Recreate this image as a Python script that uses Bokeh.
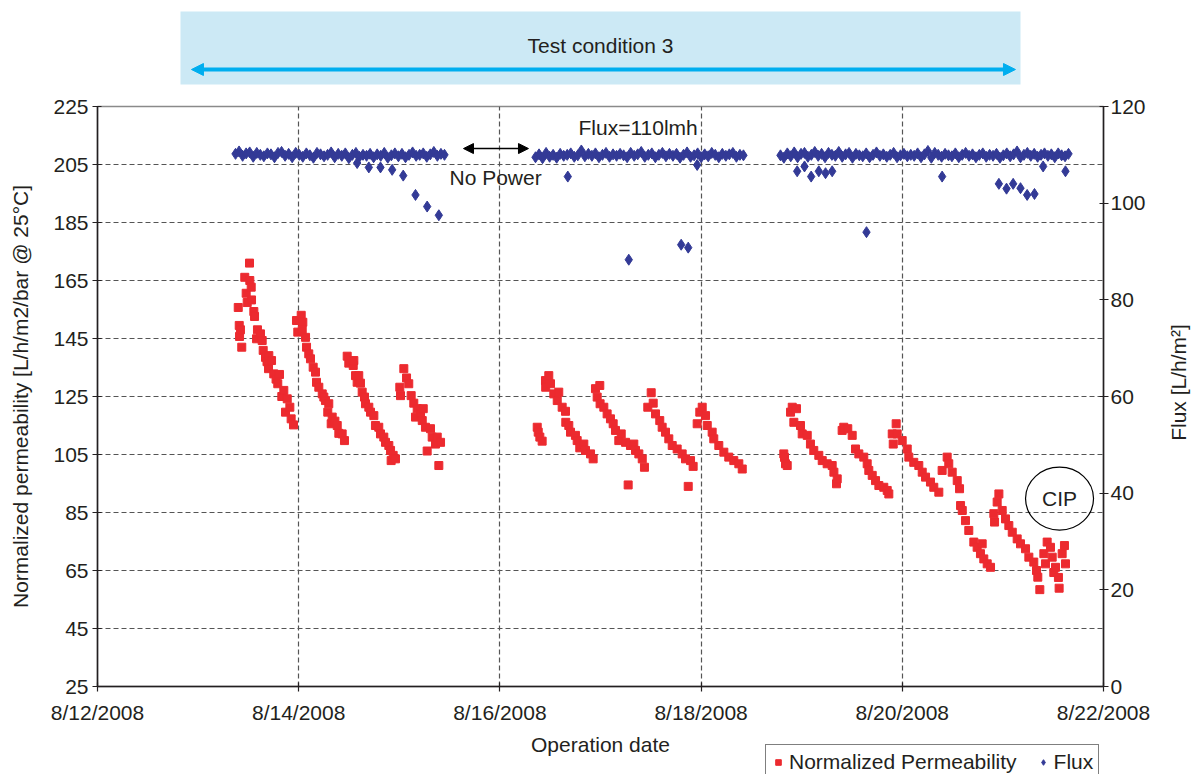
import numpy as np
from bokeh.plotting import figure
from bokeh.models import (Range1d, LinearAxis, FixedTicker, Legend, LegendItem,
                          Label, Arrow, NormalHead, BoxAnnotation)
from bokeh.layouts import column, row
from bokeh.embed import file_html
from bokeh.resources import INLINE

FONT = "Liberation Sans"
TXT = "#231F20"
FS = "21px"
RED = "#EC2A2F"
NAVY = "#333A96"

# ---------------- data ----------------
tick_days = [0, 2, 4, 6, 8, 10]
tick_labels = ["8/12/2008", "8/14/2008", "8/16/2008", "8/18/2008", "8/20/2008", "8/22/2008"]
perm_ticks = [25, 45, 65, 85, 105, 125, 145, 165, 185, 205, 225]
flux_ticks = [0, 20, 40, 60, 80, 100, 120]

# days since 8/12/2008 00:00 and normalized permeability
perm_day = [
    1.399, 1.409, 1.412, 1.421, 1.434, 1.464, 1.478, 1.488, 1.511, 1.514, 1.528, 1.531,
    1.554, 1.561, 1.581, 1.590, 1.620, 1.637, 1.647, 1.670, 1.685, 1.700, 1.703, 1.730,
    1.752, 1.775, 1.792, 1.809, 1.832, 1.852, 1.869, 1.886, 1.912, 1.925, 1.948,
    1.978, 1.991, 2.025, 2.035, 2.041, 2.068, 2.078, 2.100, 2.117, 2.144, 2.167, 2.177,
    2.200, 2.234, 2.250, 2.266, 2.289, 2.299, 2.323, 2.333, 2.360, 2.383, 2.399, 2.432, 2.455,
    2.482, 2.498, 2.542, 2.548, 2.565, 2.581, 2.597, 2.614, 2.631, 2.654, 2.664, 2.697,
    2.714, 2.747, 2.763, 2.796, 2.813, 2.846, 2.863, 2.896, 2.913, 2.919, 2.939, 2.962,
    3.005, 3.012, 3.045, 3.072, 3.094, 3.118, 3.144, 3.161, 3.178, 3.211, 3.228, 3.238,
    3.260, 3.277, 3.310, 3.327, 3.360, 3.377, 3.393, 3.410,
    4.371, 4.381, 4.397, 4.420,
    4.453, 4.455, 4.486, 4.503, 4.536, 4.570, 4.585, 4.619, 4.652, 4.655, 4.685, 4.702,
    4.751, 4.768, 4.794, 4.801, 4.834, 4.851, 4.901, 4.927,
    4.950, 4.967, 4.993, 4.996, 5.033, 5.066, 5.099, 5.126, 5.149, 5.182, 5.206, 5.249,
    5.275, 5.298, 5.331, 5.348, 5.381, 5.415, 5.437,
    5.470, 5.504, 5.524, 5.547, 5.589, 5.613, 5.646, 5.679, 5.713, 5.762, 5.812, 5.845,
    5.872, 5.895, 5.921,
    5.961, 5.987, 6.011, 6.044, 6.061, 6.110, 6.126, 6.176, 6.226, 6.275, 6.325, 6.375, 6.409,
    6.822, 6.829, 6.839, 6.856,
    6.889, 6.906, 6.922, 6.948, 6.988, 7.005, 7.055, 7.087, 7.120, 7.170, 7.204, 7.253,
    7.303, 7.320, 7.346, 7.353,
    7.402, 7.418, 7.458, 7.502, 7.535, 7.568, 7.617, 7.651, 7.667, 7.701, 7.734, 7.767,
    7.816, 7.850, 7.866,
    7.900, 7.910, 7.939, 7.949, 7.999, 8.049, 8.065, 8.114, 8.164, 8.198, 8.231, 8.280,
    8.313, 8.363,
    8.396, 8.446, 8.462, 8.496, 8.546, 8.569,
    8.579, 8.596, 8.628, 8.661, 8.711, 8.744, 8.777, 8.794, 8.810, 8.844, 8.877,
    8.910, 8.917, 8.943, 8.960, 8.993, 9.026, 9.059, 9.093, 9.142, 9.175, 9.225, 9.258,
    9.307, 9.334, 9.347, 9.367,
    9.407, 9.423, 9.440, 9.473, 9.490, 9.506, 9.523, 9.552, 9.559, 9.589, 9.612, 9.622,
]
perm_val = [
    155.7, 149.5, 145.7, 148.0, 142.0, 166.1, 160.6, 157.4, 171.0, 165.0, 162.7, 158.3,
    154.3, 152.6, 144.9, 148.0, 146.6, 144.3, 140.9, 138.5, 137.0, 134.6, 139.1, 137.4,
    132.8, 131.0, 129.4, 132.6, 125.0, 127.1, 119.6, 124.2, 121.3, 117.3, 115.2,
    151.2, 147.2, 153.0, 147.8, 150.6, 145.4, 142.0, 139.7, 138.0, 135.1, 133.4, 129.9,
    128.2, 125.9, 124.8, 123.6, 119.6, 122.5, 115.6, 117.9, 116.5, 115.0, 112.3, 112.1, 109.8,
    138.9, 136.5, 135.7, 137.4, 132.2, 129.9, 132.2, 129.6, 126.5, 124.8, 122.5, 121.3,
    119.6, 118.4, 115.0, 114.4, 112.1, 111.0, 109.2, 108.1, 106.4, 102.9, 104.7, 103.5,
    128.2, 125.3, 134.6, 131.4, 129.4, 125.3, 122.7, 117.9, 120.8, 119.0, 116.7, 120.8,
    114.4, 106.2, 113.9, 111.0, 108.6, 111.0, 101.2, 109.2,
    114.4, 112.7, 111.0, 109.6,
    130.5, 128.2, 132.2, 129.4, 125.9, 123.6, 126.5, 121.3, 119.9, 116.1, 115.0, 112.7,
    111.6, 109.8, 107.3, 108.1, 108.6, 106.4, 105.2, 103.5,
    127.7, 124.8, 128.8, 122.5, 121.3, 119.0, 117.3, 115.6, 113.3, 109.8, 112.1, 109.2,
    94.5, 108.1, 108.6, 106.4, 105.2, 103.5, 100.6,
    121.3, 126.3, 122.7, 119.0, 116.7, 114.4, 112.7, 110.4, 108.1, 106.9, 105.2, 103.5,
    94.0, 102.9, 100.9,
    115.6, 119.6, 121.3, 118.4, 115.0, 112.7, 110.4, 108.1, 105.8, 104.1, 102.9, 101.8, 100.0,
    105.2, 104.0, 101.8, 101.2,
    119.6, 121.3, 116.1, 120.8, 115.0, 112.1, 111.6, 108.6, 106.4, 104.7, 102.9, 101.8,
    101.2, 98.9, 94.9, 96.6,
    113.3, 114.4, 113.9, 111.6, 106.9, 105.2, 104.1, 101.8, 99.5, 97.8, 96.0, 94.3,
    93.7, 92.6, 91.4,
    112.1, 108.6, 115.6, 112.1, 109.8, 106.9, 104.1, 102.3, 101.2, 98.9, 97.2, 95.5,
    93.7, 92.0,
    99.5, 104.1, 101.8, 98.9, 96.0, 93.2,
    87.4, 85.7, 82.2, 78.8, 74.8, 73.0, 70.8, 74.2, 69.0, 67.3, 66.1,
    84.6, 81.7, 88.6, 91.4, 85.7, 82.8, 80.5, 78.2, 75.9, 74.2, 72.5, 69.6,
    67.9, 65.0, 62.7, 58.4,
    70.8, 67.3, 74.8, 73.0, 69.6, 64.3, 66.1, 62.6, 58.9, 70.8, 73.6, 67.3,
]

# flux: three logged runs (start day, end day) with regularly logged values
flux_run_start = [1.372, 4.354, 6.789]
flux_run_end = [3.449, 6.421, 9.652]
flux_run1 = [110.2, 110.7, 109.8, 110.3, 110.5, 109.6, 110.4, 110.0, 109.7, 110.3,
             110.1, 109.5, 110.4, 110.6, 109.8, 110.2, 109.5, 110.4, 110.0, 109.6,
             110.3, 109.9, 109.4, 110.4, 110.1, 109.7, 110.0, 110.5, 109.5, 110.2,
             109.8, 110.3, 109.3, 110.0, 110.4, 109.6, 110.0, 109.8, 110.2, 109.5,
             110.1, 109.8, 110.4, 109.4, 109.9, 110.3, 109.7, 110.2, 109.5, 110.0,
             110.5, 109.8, 110.0, 110.3, 109.6, 110.1, 110.6, 109.8, 110.2, 110.0]
flux_run2 = [109.5, 110.1, 109.3, 110.4, 109.6, 110.0, 109.4, 110.2, 109.8, 110.0,
             110.3, 109.6, 109.9, 110.9, 109.7, 110.2, 109.8, 110.3, 109.5, 110.0,
             110.4, 109.6, 110.1, 109.8, 110.2, 109.9, 109.5, 110.4, 109.8, 110.1,
             110.6, 109.6, 110.0, 110.3, 109.5, 110.0, 110.4, 109.7, 110.2, 109.8,
             110.2, 109.4, 110.0, 110.5, 109.6, 109.9, 110.3, 109.5, 110.1, 109.7,
             110.4, 110.0, 109.5, 110.2, 109.8, 110.1, 110.4, 109.6, 110.0, 109.9]
flux_run3 = [109.9, 109.4, 110.3, 109.7, 110.5, 109.5, 110.2, 110.4, 109.6, 110.0,
             110.6, 109.8, 110.2, 109.5, 110.4, 110.0, 109.8, 110.6, 109.6, 110.1,
             110.4, 109.4, 110.2, 109.9, 109.7, 110.3, 109.5, 110.0, 110.5, 109.8,
             110.1, 109.6, 110.0, 110.4, 109.5, 109.9, 110.2, 109.7, 110.0, 109.8,
             110.3, 109.5, 110.1, 110.8, 109.4, 110.4, 110.0, 109.6, 110.2, 109.9,
             109.7, 110.3, 109.5, 110.0, 110.4, 109.8, 110.1, 109.5, 110.0, 110.3,
             109.6, 110.0, 109.8, 110.2, 109.4, 109.9, 110.3, 109.7, 110.1, 110.7,
             109.5, 110.0, 110.4, 109.8, 110.2, 109.6, 110.0, 110.3, 109.8, 110.1,
             109.5, 110.3, 109.9, 109.7, 110.2]
flux_out_day = [2.581, 2.697, 2.813, 2.929, 3.039, 3.161, 3.277, 3.393,
                4.675, 5.281, 5.802, 5.872, 5.961,
                6.955, 7.028, 7.094, 7.170, 7.237, 7.303, 7.644, 8.396,
                8.960, 9.036, 9.102, 9.175, 9.241, 9.314, 9.400, 9.622]
flux_out_val = [108.3, 107.4, 107.4, 106.9, 105.7, 101.7, 99.3, 97.5,
                105.5, 88.3, 91.4, 90.8, 107.9,
                106.6, 107.6, 105.5, 106.6, 106.2, 106.6, 94.0, 105.5,
                104.0, 103.0, 104.0, 103.1, 101.7, 101.9, 107.6, 106.6]

flux_day = []
flux_val = []
for s, e, vals in zip(flux_run_start, flux_run_end, [flux_run1, flux_run2, flux_run3]):
    flux_day += list(np.linspace(s, e, len(vals)))
    flux_val += vals
flux_day += flux_out_day
flux_val += flux_out_val

# ---------------- layout ----------------
W = 1194
BL = 97            # frame left (px)
FW = 1006          # frame width (px)
SIDE_W = 26        # strip carrying the right axis title
PW = W - SIDE_W    # main plot width
TOP_H = 90
MAIN_H = 643
BOT_H = 41

xr = Range1d(0, 10)

def bare(fig):
    fig.grid.visible = False
    fig.outline_line_color = None
    return fig

# --- banner ---
top = bare(figure(width=W, height=TOP_H, x_range=xr, y_range=Range1d(0, TOP_H),
                  toolbar_location=None, output_backend="svg",
                  x_axis_location=None, y_axis_location=None,
                  min_border_left=BL, min_border_right=W - BL - FW,
                  min_border_top=0, min_border_bottom=0))
top.add_layout(BoxAnnotation(left=0.825, right=9.175, bottom=6, top=79,
                             fill_color="#CCE9F5", fill_alpha=1.0, line_color=None))
top.add_layout(Arrow(x_start=0.934, y_start=21, x_end=9.125, y_end=21,
                     line_color="#00AEEF", line_width=4,
                     start=NormalHead(size=12, fill_color="#00AEEF", line_color="#00AEEF"),
                     end=NormalHead(size=12, fill_color="#00AEEF", line_color="#00AEEF")))
top.add_layout(Label(x=5.0, y=45, text="Test condition 3", text_align="center",
                     text_baseline="middle", text_font=FONT, text_font_size=FS, text_color=TXT))

# --- main chart ---
p = figure(width=PW, height=MAIN_H, x_range=xr, y_range=Range1d(25, 225),
           toolbar_location=None, output_backend="svg",
           min_border_left=BL, min_border_right=PW - BL - FW,
           min_border_top=16, min_border_bottom=MAIN_H - 16 - 580)
p.extra_y_ranges = {"flux": Range1d(0, 120)}
p.outline_line_color = "#8A8A8A"
p.outline_line_width = 1.5

p.xaxis.ticker = FixedTicker(ticks=tick_days)
p.xaxis.major_label_overrides = {d: l for d, l in zip(tick_days, tick_labels)}
p.yaxis.ticker = FixedTicker(ticks=perm_ticks)
p.yaxis.axis_label = "Normalized permeability [L/h/m2/bar @ 25\u00b0C]"

ax_r = LinearAxis(y_range_name="flux", ticker=FixedTicker(ticks=flux_ticks))
p.add_layout(ax_r, "right")

for ax in [p.xaxis[0], p.yaxis[0], ax_r]:
    ax.axis_line_color = TXT
    ax.axis_line_width = 1.5
    ax.major_tick_line_color = TXT
    ax.major_tick_line_width = 1.2
    ax.major_tick_in = 4
    ax.major_tick_out = 5
    ax.minor_tick_line_color = None
    ax.major_label_text_font = FONT
    ax.major_label_text_font_size = FS
    ax.major_label_text_color = TXT
    ax.axis_label_text_font = FONT
    ax.axis_label_text_font_size = FS
    ax.axis_label_text_font_style = "normal"
    ax.axis_label_text_color = TXT

p.xaxis.major_label_standoff = 9
p.yaxis.major_label_standoff = 4
p.yaxis.axis_label_standoff = 18
ax_r.major_label_standoff = 2

for g in [p.xgrid[0], p.ygrid[0]]:
    g.grid_line_color = "#555555"
    g.grid_line_dash = "5 3"
    g.grid_line_width = 1.2

r_perm = p.scatter(perm_day, perm_val, marker="square", size=8,
                   fill_color=RED, line_color=RED)
r_flux = p.scatter(flux_day, flux_val, marker="diamond", size=11, y_range_name="flux",
                   fill_color=NAVY, line_color=NAVY)

p.add_layout(Label(x=4.781, y=217.8, text="Flux=110lmh", text_align="left",
                   text_baseline="middle", text_font=FONT, text_font_size=FS, text_color=TXT))
p.add_layout(Label(x=3.499, y=200.5, text="No Power", text_align="left",
                   text_baseline="middle", text_font=FONT, text_font_size=FS, text_color=TXT))
p.add_layout(Arrow(x_start=3.638, y_start=210.5, x_end=4.284, y_end=210.5,
                   line_color="black", line_width=1.5,
                   start=NormalHead(size=10, fill_color="black", line_color="black"),
                   end=NormalHead(size=10, fill_color="black", line_color="black")))
p.ellipse(x=[9.563], y=[89.8], width=68, height=63, width_units="screen",
          height_units="screen", fill_color=None, line_color="black", line_width=1.2)
p.add_layout(Label(x=9.563, y=89.8, text="CIP", text_align="center",
                   text_baseline="middle", text_font=FONT, text_font_size=FS, text_color=TXT))

# --- strip with right axis title ---
side = bare(figure(width=SIDE_W, height=MAIN_H, x_range=Range1d(0, SIDE_W),
                   y_range=Range1d(0, MAIN_H), toolbar_location=None, output_backend="svg",
                   x_axis_location=None, y_axis_location=None,
                   min_border_left=0, min_border_right=0, min_border_top=0, min_border_bottom=0))
side.add_layout(Label(x=10, y=MAIN_H - 306, text="Flux [L/h/m\u00b2]", angle=np.pi / 2,
                      text_align="center", text_baseline="middle", text_font=FONT,
                      text_font_size=FS, text_color=TXT))

# --- bottom strip: x-axis title and legend (frame aligned with the chart) ---
bot = bare(figure(width=W, height=BOT_H, x_range=xr, y_range=Range1d(0, BOT_H),
                  toolbar_location=None, output_backend="svg",
                  x_axis_location=None, y_axis_location=None,
                  min_border_left=BL, min_border_right=W - BL - FW,
                  min_border_top=0, min_border_bottom=0))
bot.add_layout(Label(x=5.0, y=BOT_H - 11, text="Operation date", text_align="center",
                     text_baseline="middle", text_font=FONT, text_font_size=FS, text_color=TXT))
proxy_perm = bot.scatter([-100], [-1000], marker="square", size=8, fill_color=RED, line_color=RED)
proxy_flux = bot.scatter([-100], [-1000], marker="diamond", size=11, fill_color=NAVY, line_color=NAVY)
legend = Legend(items=[LegendItem(label="Normalized Permeability", renderers=[proxy_perm]),
                       LegendItem(label="Flux", renderers=[proxy_flux])],
                orientation="horizontal", location=(668, -6),
                padding=5, margin=0, spacing=19, glyph_width=14, glyph_height=14,
                label_standoff=4, label_text_font=FONT, label_text_font_size=FS,
                label_text_color=TXT, border_line_color="black", border_line_width=1,
                background_fill_color="white", background_fill_alpha=1.0)
bot.add_layout(legend)

lay = column(top, row(p, side), bot)
open("out.html", "w").write(file_html(lay, INLINE))
